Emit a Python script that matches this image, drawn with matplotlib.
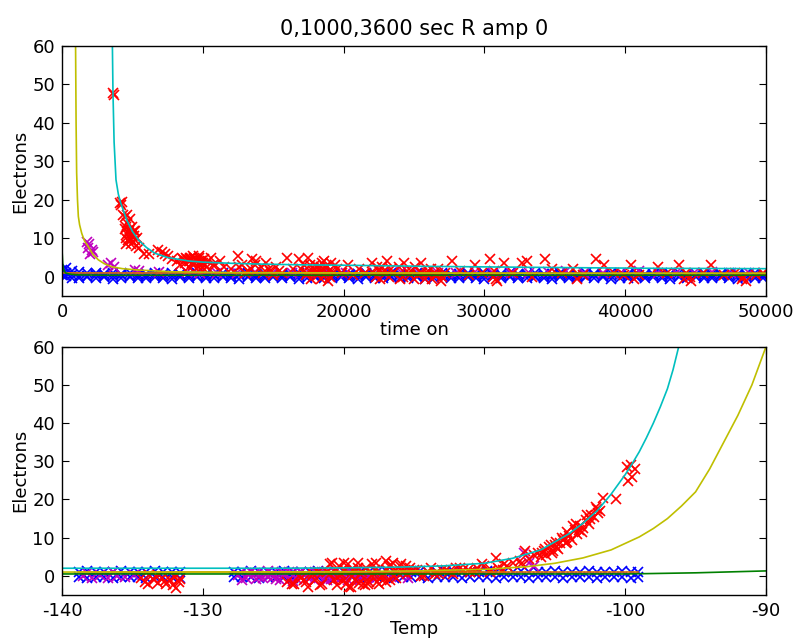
import matplotlib
matplotlib.use("Agg")
import matplotlib.pyplot as plt

plt.rcParams["font.family"] = ["DejaVu Sans"]
plt.rcParams["axes.unicode_minus"] = False

TITLE = "0,1000,3600 sec R amp 0"

# ---------------------------------------------------------------
# top panel: electrons vs time on
# ---------------------------------------------------------------
blue_t_x = [0, 300, 700, 1200, 1800, 2400, 3000, 3600, 4200, 4800,
            5400, 6000, 6600, 7200, 7800, 8400, 9000, 9600, 10200, 10800,
            11400, 12000, 12600, 13200, 13800, 14400, 15000, 15600, 16200, 16800,
            17400, 18000, 18600, 19200, 19800, 20400, 21000, 21600, 22200, 22800,
            23400, 24000, 24600, 25200, 25800, 26400, 27000, 27600, 28200, 28800,
            29400, 30000, 30600, 31200, 31800, 32400, 33000, 33600, 34200, 34800,
            35400, 36000, 36600, 37200, 37800, 38400, 39000, 39600, 40200, 40800,
            41400, 42000, 42600, 43200, 43800, 44400, 45000, 45600, 46200, 46800,
            47400, 48000, 48600, 49200, 49800]
blue_t_hi = [1.8, 2.2, 1.5, 1.2, 0.9, 1.0, 0.8, 0.9, 0.7, 1.0,
             0.8, 0.6, 0.9, 0.7, 1.0, 0.8, 0.6, 0.9, 0.7, 0.8,
             1.0, 0.7, 0.6, 0.9, 0.8, 0.7, 1.0, 0.6, 0.8, 0.9,
             0.7, 0.8, 1.0, 0.6, 0.9, 0.7, 0.8, 1.0, 0.7, 0.6,
             0.9, 0.8, 0.7, 1.0, 0.6, 0.8, 0.9, 0.7, 0.8, 1.0,
             0.6, 0.9, 0.7, 0.8, 1.0, 0.7, 0.6, 0.9, 0.8, 0.7,
             1.0, 0.8, 0.6, 0.9, 0.7, 0.8, 1.0, 0.7, 0.6, 0.9,
             0.8, 0.7, 1.0, 0.6, 0.9, 0.8, 0.7, 1.0, 0.8, 0.6,
             0.9, 0.7, 0.8, 1.0, 0.7]
blue_t_mid = [0.5, 1.0, 0.4, 0.3, 0.2, 0.4, 0.3, 0.1, 0.4, 0.2,
              0.3, 0.1, 0.4, 0.2, 0.3, 0.4, 0.1, 0.3, 0.2, 0.4,
              0.1, 0.3, 0.4, 0.2, 0.3, 0.1, 0.4, 0.2, 0.3, 0.1,
              0.4, 0.2, 0.3, 0.1, 0.4, 0.3, 0.2, 0.4, 0.1, 0.3,
              0.2, 0.4, 0.1, 0.3, 0.2, 0.4, 0.3, 0.1, 0.2, 0.4,
              0.3, 0.1, 0.4, 0.2, 0.3, 0.1, 0.4, 0.2, 0.3, 0.1,
              0.4, 0.2, 0.3, 0.1, 0.4, 0.3, 0.2, 0.4, 0.1, 0.3,
              0.2, 0.4, 0.1, 0.3, 0.2, 0.4, 0.3, 0.1, 0.2, 0.4,
              0.3, 0.1, 0.4, 0.2, 0.3]
blue_t_lo = [0.8, 0.3, -0.2, -0.4, -0.1, -0.3, 0.0, -0.5, -0.2, -0.1,
             -0.4, -0.2, 0.0, -0.3, -0.5, -0.1, -0.3, 0.0, -0.4, -0.2,
             -0.1, -0.3, -0.5, 0.0, -0.2, -0.4, -0.1, -0.3, 0.0, -0.5,
             -0.2, -0.1, -0.4, -0.3, 0.0, -0.2, -0.5, -0.1, -0.3, -0.4,
             0.0, -0.2, -0.3, -0.1, -0.5, -0.2, 0.0, -0.4, -0.3, -0.1,
             -0.2, -0.5, 0.0, -0.3, -0.1, -0.4, -0.2, 0.0, -0.3, -0.5,
             -0.1, -0.2, -0.4, 0.0, -0.3, -0.1, -0.5, -0.2, -0.3, 0.0,
             -0.4, -0.1, -0.2, -0.5, 0.0, -0.3, -0.1, -0.4, -0.2, 0.0,
             -0.3, -0.5, -0.1, -0.2, -0.4]

mag_t_x = [1750, 1850, 1950, 2000, 2100, 2200, 3300, 3500, 3700, 5200,
           5500, 6900, 8900, 9800, 11000, 12400, 13700, 15000, 16300, 17600,
           18900, 20200, 21500, 22800, 24100, 25400, 26700, 28000, 29300, 30600,
           31900, 33200, 34500, 35800, 37100, 38400, 39700, 41000, 42300, 43600,
           44900, 46200, 47500, 48800]
mag_t_y = [9.0, 7.5, 8.5, 6.0, 7.0, 6.5, 3.0, 3.5, 2.5, 1.8,
           1.5, 1.2, 1.2, 1.0, 1.1, 0.9, 1.2, 1.0, 1.1, 0.9,
           1.2, 1.0, 1.1, 0.9, 1.2, 1.0, 1.1, 0.9, 1.2, 1.0,
           1.1, 0.9, 1.2, 1.5, 1.0, 1.1, 0.9, 1.5, 1.0, 1.1,
           0.9, 1.2, 1.0, 1.1]

red_t_x = [3620, 3660, 4150, 4200, 4260, 4450, 4550, 4600, 4650, 4700,
           4750, 4800, 4850, 4900, 4950, 5000, 5050, 5100, 5150, 5250,
           5500, 5800, 6200, 6800, 7100, 7300, 7500, 7800, 8200, 8500,
           8700, 8900, 9100, 9300, 9500, 9700, 9900, 10100, 10300, 10600,
           10900, 11200, 11500, 12000, 12500, 12800, 13200, 13500, 13800, 14100,
           14500, 14800, 15200, 15600, 16000, 16400, 16800, 17200, 17500, 17800,
           18000, 18200, 18400, 18600, 18800, 19100, 19500, 19900, 20300, 20700,
           21100, 21500, 22000, 22300, 22700, 23100, 23500, 23900, 24300, 24700,
           25100, 25500, 25900, 26300, 26700, 27200, 27700, 28300, 28900, 29300,
           29800, 30400, 30600, 30900, 31400, 32000, 32700, 33000, 33400, 34300,
           34800, 35500, 36300, 36600, 37000, 37900, 38500, 39200, 39900, 40400,
           40600, 41000, 42300, 43000, 43800, 44200, 44600, 45500, 46100, 47000,
           47800, 48300, 48600, 49300, 49800,
           9000, 9200, 9400, 9600, 9800, 10000, 17900, 18300, 18700, 22500,
           24800, 25300, 26000, 26600, 27000, 30700, 30800, 44300, 44700, 48400]
red_t_y = [47.8, 47.3, 19.2, 18.6, 19.5, 15.5, 13.0, 11.0, 14.0, 9.5,
           12.0, 10.0, 15.0, 8.5, 11.5, 13.0, 9.0, 10.5, 12.0, 8.0,
           7.5, 6.0, 6.0, 7.0, 6.5, 6.0, 5.5, 4.5, 4.0, 5.0,
           3.5, 4.5, 5.0, 3.0, 4.0, 5.5, 3.5, 4.5, 2.5, 5.0,
           3.0, 4.0, 2.5, 2.0, 5.5, 3.0, 1.5, 4.5, 4.0, 2.5,
           3.5, 1.5, 2.5, 1.0, 5.0, 2.0, 4.5, 3.0, 5.0, 1.5,
           3.0, 0.5, 2.5, 4.0, 1.0, 3.5, 2.0, 1.0, 3.0, 0.5,
           2.0, 1.0, 3.5, 0.0, 2.5, 4.0, 1.0, 2.5, 3.5, 0.5,
           2.5, 3.5, 1.0, -0.5, 2.0, 1.0, 4.0, 1.5, 0.5, 3.0,
           1.0, 4.5, 0.0, -1.0, 3.5, 1.0, 3.5, 4.0, 0.0, 4.5,
           2.0, 1.0, 2.0, -0.5, 0.5, 4.5, 3.0, 1.0, 0.5, 3.0,
           -0.5, 0.5, 2.5, 1.0, 3.0, -0.5, 0.0, 1.0, 3.0, 0.5,
           1.0, -0.5, -1.0, 0.5, 1.0,
           4.0, 3.5, 5.0, 4.0, 3.0, 3.5, 2.0, 1.5, 2.5, 1.5,
           1.5, 0.5, 1.5, 0.5, 0.0, 1.5, -0.5, 1.0, -1.0, 0.0]
# dense blobs of the red series
red_t_x2 = [8400, 8600, 8800, 9000, 9100, 9300, 9450, 9550, 9650, 9750,
            9850, 9950, 10150, 10400, 10700, 4350, 4480, 4520, 4620, 4720,
            4820, 4880, 4980, 5080, 5180, 5300, 4580, 12600, 13000, 13400,
            13700, 14300, 14700, 15000, 15400, 17000, 17300, 17600, 17700, 18100,
            18400, 18500, 18800, 19000, 19200, 19400, 18900, 17400, 18150, 18650,
            22100, 22400, 22600, 22900, 23200, 23400, 24000, 24500, 25000, 25600,
            26200, 26500, 26900, 24200, 25800]
red_t_y2 = [3.0, 4.5, 5.0, 2.5, 4.0, 5.5, 3.5, 4.5, 2.5, 5.0,
            4.0, 2.5, 3.0, 4.0, 3.0, 16.0, 12.5, 10.0, 16.0, 11.5,
            12.5, 9.5, 10.5, 12.0, 9.5, 10.0, 8.5, 2.5, 1.0, 2.0,
            3.0, 1.0, 2.0, 0.5, 1.5, 2.0, 0.5, 3.0, -0.5, 1.5,
            -0.5, 3.5, 2.5, 0.0, 1.5, 3.0, -1.0, 1.0, 2.5, 0.5,
            1.0, 2.5, -0.5, 1.5, 0.0, 2.0, -0.5, 1.5, -0.5, 1.0,
            2.0, 0.5, -1.0, 0.0, -0.5]

# fitted curves
cyan_t_x = [3572, 3620, 3700, 3835, 4000, 4168, 4593, 5000, 5420, 6000,
            6605, 7500, 9000, 10000, 12000, 14000, 17000, 20000, 26000, 35000,
            42000, 50000]
cyan_t_y = [62, 47.9, 35, 25.2, 21.5, 19.2, 14.8, 11.8, 9.6, 7.6,
            6.1, 5.0, 4.1, 3.8, 3.5, 3.3, 3.1, 3.0, 2.7, 2.4,
            2.2, 2.1]
yel_t_x = [960, 1000, 1040, 1100, 1160, 1250, 1400, 1600, 1870, 2200,
           2580, 3000, 3530, 4300, 5420, 7790, 12000, 20000, 35000, 50000]
yel_t_y = [62, 40, 27, 20, 15.7, 13.5, 11.3, 9.3, 7.8, 5.8,
           4.4, 3.4, 2.6, 2.1, 1.75, 1.3, 1.1, 1.0, 0.9, 0.9]
grn_t_x = [0, 50, 120, 250, 500, 1000, 3000, 50000]
grn_t_y = [7, 3.5, 1.8, 1.0, 0.7, 0.5, 0.4, 0.4]
org_t_x = [0, 50000]
org_t_y = [1.0, 0.9]

# ---------------------------------------------------------------
# bottom panel: electrons vs temperature
# ---------------------------------------------------------------
blue_b_x = [-138.8, -138.2, -137.6, -137.0, -136.4, -135.8, -135.2, -134.6, -134.0, -133.4,
            -132.8, -132.2, -131.6, -127.8, -127.2, -126.6, -126.0, -125.4, -124.8, -124.2,
            -123.6, -123.0, -122.4, -121.8, -121.2, -120.6, -120.0, -119.4, -118.8, -118.2,
            -117.6, -117.0, -116.4, -115.8, -115.2, -114.6, -114.0, -113.4, -112.8, -112.2,
            -111.6, -111.0, -110.4, -109.8, -109.2, -108.6, -108.0, -107.4, -106.8, -106.2,
            -105.6, -105.0, -104.4, -103.8, -103.2, -102.6, -102.0, -101.4, -100.8, -100.2,
            -99.6, -99.1]
blue_b_hi = [1.0, 1.2, 0.9, 1.1, 1.0, 1.2, 0.9, 1.1, 1.0, 1.2,
             0.9, 1.1, 1.0, 1.1, 0.9, 1.2, 1.0, 1.1, 0.9, 1.2,
             1.0, 1.1, 0.9, 1.2, 1.0, 1.1, 0.9, 1.2, 1.0, 1.1,
             0.9, 1.2, 1.0, 1.1, 0.9, 1.2, 1.0, 1.1, 0.9, 1.2,
             1.0, 1.1, 0.9, 1.2, 1.0, 1.1, 0.9, 1.2, 1.0, 1.1,
             0.9, 1.2, 1.0, 1.1, 0.9, 1.2, 1.0, 1.1, 0.9, 1.2,
             1.0, 1.1]
blue_b_lo = [-0.3, -0.5, -0.4, -0.2, -0.5, -0.3, -0.4, -0.2, -0.5, -0.3,
             -0.4, -0.2, -0.5, -0.3, -0.4, -0.2, -0.5, -0.3, -0.4, -0.2,
             -0.5, -0.3, -0.4, -0.2, -0.5, -0.3, -0.4, -0.2, -0.5, -0.3,
             -0.4, -0.2, -0.5, -0.3, -0.4, -0.2, -0.5, -0.3, -0.4, -0.2,
             -0.5, -0.3, -0.4, -0.2, -0.5, -0.3, -0.4, -0.2, -0.5, -0.3,
             -0.4, -0.2, -0.5, -0.3, -0.4, -0.2, -0.5, -0.3, -0.4, -0.2,
             -0.5, -0.3]

mag_b_x = [-138.5, -137.3, -136.1, -134.9, -127.5, -126.9, -126.3, -125.7, -125.1, -124.5,
           -123.9, -123.3, -122.7, -122.1, -121.5, -120.9, -120.3, -119.7, -119.1, -118.5,
           -125.4, -124.2, -123.0, -121.8, -120.6, -119.4, -118.2, -107.2, -106.8, -106.5,
           -127.2, -126.6, -126.0, -125.4, -124.8, -124.2, -123.6, -123.0, -122.4, -121.8,
           -121.2, -120.6, -120.0, -119.4, -118.8, -137.9, -136.7, -135.5, -138.2, -136.4,
           -126.8, -126.2, -125.6, -125.0, -124.4, -123.8, -123.2, -122.6, -122.0, -121.4,
           -120.8, -120.2, -119.6, -119.0, -118.4, -117.8, -117.2, -116.6, -116.0, -115.4]
mag_b_y = [0.0, 0.2, -0.1, 0.1, 0.3, -0.5, 0.8, -0.6, 0.5, -1.0,
           0.9, -0.8, 0.4, -1.2, 1.0, -0.7, 0.2, -1.1, 0.8, -0.5,
           0.0, 0.2, -0.2, 0.3, -0.1, 0.1, 0.0, 6.0, 3.5, 2.5,
           -1.2, 0.9, -0.3, 1.2, -0.8, 0.6, -1.3, 1.1, -0.6, 0.8,
           -1.0, 1.0, -0.4, 0.7, -1.2, -0.5, -0.6, -0.4, 0.8, 0.9,
           0.4, -0.9, 0.5, -0.4, 1.0, -0.9, 0.5, -0.3, 1.0, -0.8,
           0.4, -0.5, 1.0, -0.6, 0.3, -0.9, 0.6, -0.4, 0.2, -0.6]

red_b_x = [-134.4, -134.1, -133.8, -133.5, -133.2, -132.9, -132.6, -132.3, -132.0, -131.7,
           -133.9, -133.3, -132.7, -132.1, -131.6, -131.9,
           -124.0, -123.5, -123.0, -122.5, -122.0, -121.5, -121.0, -120.5, -120.0, -119.5,
           -119.0, -118.5, -118.0, -117.5, -117.0, -116.5, -116.0, -115.5, -115.0, -114.5,
           -120.2, -119.7, -119.2, -118.7, -118.2, -117.7, -117.2, -116.7, -121.8, -122.8,
           -120.4, -119.9, -119.4, -118.9, -118.4, -117.9, -117.4, -116.9, -116.4, -115.9,
           -114.0, -113.5, -113.0, -112.5, -112.0, -111.5, -111.0, -110.5, -110.0, -109.5,
           -109.2, -109.0, -108.6, -108.4, -108.0, -107.5, -107.1, -106.8, -106.5, -106.2,
           -106.0, -105.8, -105.6, -105.4, -105.2, -105.0, -104.8, -104.6, -104.4, -104.2,
           -104.0, -103.8, -103.6, -103.4, -103.2, -103.0, -102.8, -102.6, -102.4, -102.2,
           -102.0, -101.9, -105.9, -105.1, -104.3, -103.5, -102.7, -104.9, -104.1, -103.3,
           -101.55, -100.65, -99.9, -99.6, -99.3, -99.8, -99.5, -107.4, -108.7, -109.6]
red_b_y = [-0.5, -1.5, 0.2, -1.0, -1.8, -0.5, -2.0, -1.2, -0.3, -1.6,
           -2.2, 0.0, -1.3, -2.4, -0.8, -3.3,
           -1.5, -2.0, -0.5, -2.8, -1.0, -2.2, 0.5, -2.5, 3.5, -2.8,
           2.0, -2.5, 3.0, -2.0, 3.8, 3.5, 2.5, 0.5, 1.5, 0.0,
           0.5, 3.0, -1.0, 1.0, -1.5, 3.5, 0.0, -1.0, 1.0, -1.0,
           -0.5, 1.5, 0.0, -1.8, 2.0, 0.5, -0.5, 1.5, 0.0, 3.0,
           1.0, 0.5, 1.5, 1.0, 2.0, 1.5, 1.0, 2.0, 2.5, 1.5,
           4.8, 2.0, 3.0, 2.5, 3.5, 4.0, 6.5, 4.5, 5.5, 6.0,
           5.0, 6.5, 5.5, 7.5, 6.0, 8.0, 7.0, 8.5, 9.5, 8.5,
           10.5, 9.5, 12.0, 11.0, 13.0, 12.5, 14.5, 13.5, 16.0, 15.5,
           17.5, 16.5, 6.0, 6.5, 10.0, 13.5, 16.0, 9.0, 11.5, 12.0,
           20.5, 20.0, 28.5, 29.0, 28.0, 24.8, 25.8, 3.0, 1.5, 1.0]
red_b_x2 = [-123.7, -123.2, -122.7, -122.2, -121.7, -121.2, -120.7, -120.3, -119.8, -119.3,
            -118.8, -118.3, -117.8, -117.3, -116.8, -116.3, -115.8, -115.3, -121.0, -120.0,
            -119.6, -118.6, -117.6, -116.6, -120.8, -119.0, -118.0, -117.0, -116.2, -115.6,
            -105.7, -105.3, -104.9, -104.5, -104.1, -103.7, -103.1, -102.5, -102.1, -101.8,
            -114.8, -114.3, -113.8, -113.2, -112.7, -112.2, -111.7, -111.2, -110.7, -110.2]
red_b_y2 = [-2.2, 0.0, -1.5, 0.5, -2.5, 1.0, -1.0, 2.5, -2.0, 1.5,
            0.5, -2.0, 1.5, 0.0, 2.5, -0.5, 1.0, 2.0, 3.0, -1.0,
            -2.8, -2.2, -1.5, 2.8, 3.5, 3.5, 0.0, -1.5, 1.0, 2.5,
            7.0, 8.0, 7.5, 10.0, 9.0, 13.0, 11.5, 15.0, 18.0, 17.0,
            1.5, 0.0, 2.0, 0.5, 1.5, 0.5, 2.0, 1.5, 1.0, 3.0]

cyan_b_x = [-140, -130, -125, -120, -116, -113, -110, -108, -106, -104,
            -103, -102, -101, -100, -99.5, -99, -98.5, -98, -97.5, -97,
            -96.6, -96.2, -95.8]
cyan_b_y = [2.0, 2.0, 2.0, 2.1, 2.3, 2.6, 3.3, 4.6, 6.8, 11.0,
            13.8, 17.0, 21.4, 26.5, 29.4, 32.5, 36.1, 40.0, 44.3, 49.0,
            54.0, 60.0, 65.0]
yel_b_x = [-140, -130, -120, -115, -110, -107, -105, -103, -101, -99,
           -98, -97, -96, -95, -94, -93, -92, -91, -90]
yel_b_y = [1.0, 1.0, 1.1, 1.3, 1.7, 2.4, 3.3, 4.7, 6.8, 10.2,
           12.4, 15.0, 18.3, 22.0, 28.0, 35.0, 42.0, 50.0, 60.0]
grn_b_x = [-140, -120, -110, -100, -95, -90]
grn_b_y = [0.5, 0.5, 0.5, 0.5, 0.8, 1.3]
org_b_x = [-138.8, -99.1]
org_b_y = [0.9, 0.9]


def style(ax):
    ax.tick_params(direction="in", top=True, right=True, length=5, width=0.8,
                   labelsize=13, pad=5)
    for s in ax.spines.values():
        s.set_linewidth(1.0)
    ax.set_ylim(-5, 60)
    ax.set_yticks([0, 10, 20, 30, 40, 50, 60])
    ax.set_ylabel("Electrons", fontsize=13, labelpad=2)


def scatter_x(ax, x, y, c):
    ax.plot(x, y, "x", color=c, ms=7, mew=1.2, ls="none")


fig = plt.figure(figsize=(7.96, 6.39), dpi=100)
ax1 = fig.add_axes([0.0779, 0.5368, 0.8844, 0.3912])
ax2 = fig.add_axes([0.0779, 0.0689, 0.8844, 0.3885])

scatter_x(ax1, blue_t_x, blue_t_lo, "b")
scatter_x(ax1, blue_t_x, blue_t_mid, "b")
scatter_x(ax1, blue_t_x, blue_t_hi, "b")
scatter_x(ax1, mag_t_x, mag_t_y, "m")
scatter_x(ax1, red_t_x, red_t_y, "r")
scatter_x(ax1, red_t_x2, red_t_y2, "r")
ax1.plot(org_t_x, org_t_y, color="#e07000", lw=1.2)
ax1.plot(grn_t_x, grn_t_y, color="g", lw=1.2)
ax1.plot(yel_t_x, yel_t_y, color=(0.75, 0.75, 0), lw=1.2)
ax1.plot(cyan_t_x, cyan_t_y, color=(0, 0.75, 0.75), lw=1.2)
style(ax1)
ax1.set_xlim(0, 50000)
ax1.set_xticks([0, 10000, 20000, 30000, 40000, 50000])
ax1.set_xlabel("time on", fontsize=13, labelpad=0)
ax1.set_title(TITLE, fontsize=15, pad=8)

scatter_x(ax2, blue_b_x, blue_b_lo, "b")
scatter_x(ax2, blue_b_x, blue_b_hi, "b")
scatter_x(ax2, mag_b_x, mag_b_y, "m")
scatter_x(ax2, red_b_x, red_b_y, "r")
scatter_x(ax2, red_b_x2, red_b_y2, "r")
ax2.plot(org_b_x, org_b_y, color="#e07000", lw=1.2)
ax2.plot(grn_b_x, grn_b_y, color="g", lw=1.2)
ax2.plot(yel_b_x, yel_b_y, color=(0.75, 0.75, 0), lw=1.2)
ax2.plot(cyan_b_x, cyan_b_y, color=(0, 0.75, 0.75), lw=1.2)
style(ax2)
ax2.set_xlim(-140, -90)
ax2.set_xticks([-140, -130, -120, -110, -100, -90])
ax2.set_xlabel("Temp", fontsize=13, labelpad=0)

fig.savefig("out.png", dpi=100)
